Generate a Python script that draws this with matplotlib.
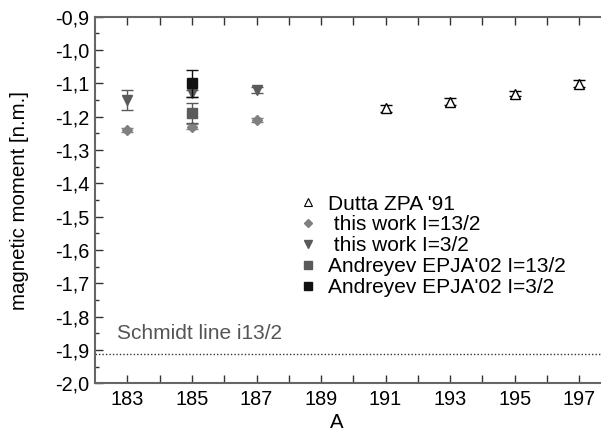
import matplotlib
matplotlib.use("Agg")
import matplotlib.pyplot as plt
from matplotlib.lines import Line2D
import numpy as np

plt.rcParams['font.family'] = ['Liberation Sans', 'DejaVu Sans']

# Dutta ZPA '91
A_dutta = [191, 193, 195, 197]
mu_dutta = [-1.175, -1.155, -1.131, -1.101]
err_dutta = [0.01, 0.01, 0.008, 0.01]

# this work I=13/2
A_13 = [183, 185, 187]
mu_13 = [-1.240, -1.230, -1.210]
err_13 = [0.007, 0.007, 0.007]

# this work I=3/2
A_3 = [183, 185, 187]
mu_3 = [-1.150, -1.130, -1.120]
err_3 = [0.03, 0.01, 0.01]

# Andreyev EPJA'02
A_and13 = [185]
mu_and13 = [-1.190]
err_and13 = [0.03]
A_and3 = [185]
mu_and3 = [-1.100]
err_and3 = [0.04]

schmidt = -1.913

c_light = '#808080'
c_mid = '#5a5a5a'
c_dark = '#111111'

fig = plt.figure(figsize=(6.01, 4.37), dpi=100)
ax = fig.add_axes([95.2 / 601, (437 - 383.3) / 437, 516.2 / 601, 366.6 / 437])

ax.errorbar(A_dutta, mu_dutta, yerr=err_dutta, fmt='^', ms=7.5, mfc='white', mec='black',
            mew=1.0, ecolor='black', elinewidth=1, capsize=4, zorder=3)
ax.errorbar(A_13, mu_13, yerr=err_13, fmt='D', ms=5.5, color=c_light,
            elinewidth=1, capsize=4, zorder=3)
ax.errorbar(A_3, mu_3, yerr=err_3, fmt='v', ms=7, color=c_mid,
            elinewidth=1, capsize=4, zorder=3)
ax.errorbar(A_and13, mu_and13, yerr=err_and13, fmt='s', ms=7, color=c_mid,
            elinewidth=1, capsize=4, zorder=4)
ax.errorbar(A_and3, mu_and3, yerr=err_and3, fmt='s', ms=7, color=c_dark,
            elinewidth=1, capsize=4, zorder=4)

ax.axhline(schmidt, color='#333333', linestyle=(0, (1, 1.5)), linewidth=1)
ax.text(182.67, -1.85, "Schmidt line i13/2", color='#555555', fontsize=15,
        ha='left', va='center')

ax.set_xlim(182, 198)
ax.set_ylim(-2.0, -0.9)
ax.set_xticks(range(183, 198))
ax.set_xticklabels([str(a) if a % 2 == 1 else '' for a in range(183, 198)])
yt = np.round(np.arange(-2.0, -0.85, 0.1), 1)
ax.set_yticks(yt)
ax.set_yticklabels([("%.1f" % v).replace('.', ',') for v in yt])
ax.set_yticks(np.arange(-1.95, -0.9, 0.1), minor=True)

ax.tick_params(axis='both', which='major', direction='in', length=6, width=1,
               color='#333333', labelsize=14.3, pad=4)
ax.tick_params(axis='x', top=True, bottom=True, pad=5)
ax.tick_params(axis='y', which='minor', direction='in', length=3, width=1, color='#333333')
for s in ['left', 'bottom', 'top']:
    ax.spines[s].set_color('#666666')
    ax.spines[s].set_linewidth(1.5)
ax.spines['right'].set_visible(False)

ax.set_xlabel("A", fontsize=14.7)
ax.set_ylabel("magnetic moment [n.m.]", fontsize=14.7)
ax.xaxis.set_label_coords((337 - 95.2) / 516.2, -0.081)
ax.yaxis.set_label_coords(-(95.2 - 29) / 516.2, 0.5)

handles = [
    Line2D([], [], ls='', marker='^', ms=5.5, mfc='white', mec='black', mew=0.8),
    Line2D([], [], ls='', marker='D', ms=4.5, color=c_light),
    Line2D([], [], ls='', marker='v', ms=5.5, color=c_mid),
    Line2D([], [], ls='', marker='s', ms=5.5, color=c_mid),
    Line2D([], [], ls='', marker='s', ms=5.5, color=c_dark),
]
labels = ["Dutta ZPA '91", " this work I=13/2", " this work I=3/2",
          "Andreyev EPJA'02 I=13/2", "Andreyev EPJA'02 I=3/2"]
ax.legend(handles, labels, loc='upper left', frameon=False, fontsize=15,
          bbox_to_anchor=(299.7 / 601, 1 - 194.6 / 437), bbox_transform=fig.transFigure,
          borderpad=0, borderaxespad=0, handlelength=0.8, handletextpad=0.56,
          labelspacing=0.09)

plt.savefig("out.png", dpi=100)
